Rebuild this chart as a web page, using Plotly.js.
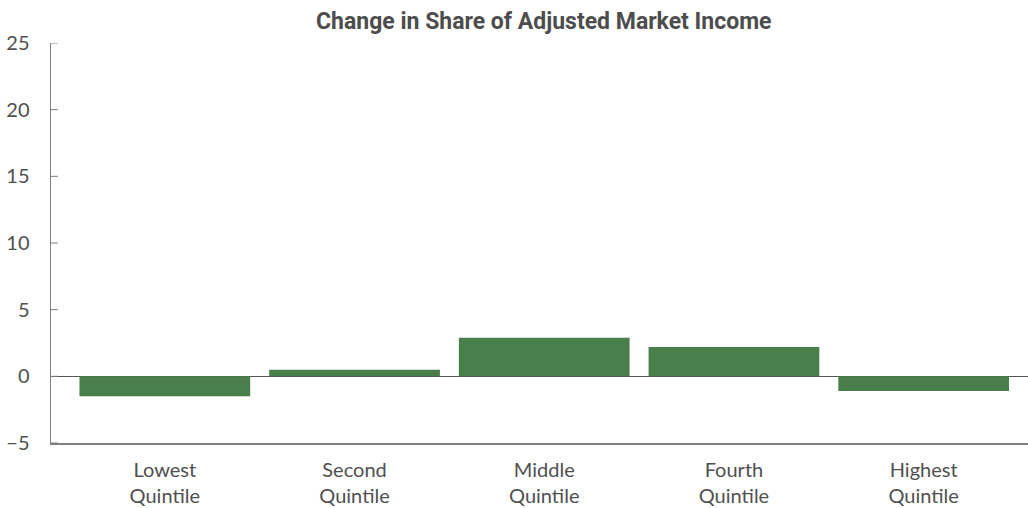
<!DOCTYPE html>
<html>
<head>
<meta charset="utf-8">
<script src="https://cdn.plot.ly/plotly-3.0.1.min.js"></script>
<style>html,body{margin:0;padding:0;background:#fff;}#chart{width:1028px;height:508px;}</style>
</head>
<body>
<div id="chart"></div>
<script>
const categories = ["Lowest<br>Quintile", "Second<br>Quintile", "Middle<br>Quintile", "Fourth<br>Quintile", "Highest<br>Quintile"];
const shareChange = [-1.5, 0.5, 2.9, 2.2, -1.1];
const yTicks = [-5, 0, 5, 10, 15, 20, 25];
const yTickLabels = ["\u22125", "0", "5", "10", "15", "20", "25"];

const trace = {
  type: "bar",
  x: [0, 1, 2, 3, 4],
  y: shareChange,
  width: 0.9,
  marker: {color: "#4a7f4c"},
  hoverinfo: "skip"
};

const layout = {
  width: 1028, height: 508,
  margin: {l: 51, r: 0, t: 43, b: 65},
  paper_bgcolor: "#fff", plot_bgcolor: "#fff",
  font: {family: "Lato, 'Open Sans', sans-serif", size: 20, color: "#505050"},
  title: {
    text: "<b>Change in Share of Adjusted Market Income</b>",
    font: {family: "Roboto, 'Open Sans', sans-serif", size: 23, color: "#4d4d4d"},
    x: 0.529, xanchor: "center", y: 0.975, yanchor: "top"
  },
  xaxis: {
    range: [-0.6, 4.55],
    tickmode: "array", tickvals: [0, 1, 2, 3, 4], ticktext: categories,
    showgrid: false, zeroline: false,
    showline: true, linecolor: "#7f7f7f", linewidth: 1.5,
    ticks: "", ticklen: 0,
    ticklabelstandoff: 8,
    tickfont: {size: 20, color: "#505050"}
  },
  yaxis: {
    range: [-5, 25],
    tickmode: "array", tickvals: yTicks, ticktext: yTickLabels,
    showgrid: false,
    zeroline: true, zerolinecolor: "#555", zerolinewidth: 1.5,
    showline: true, linecolor: "#7f7f7f", linewidth: 1.5,
    ticks: "", ticklen: 0,
    ticklabelstandoff: 16,
    tickfont: {size: 20, color: "#505050"}
  },
  showlegend: false
};

layout.shapes = yTicks.map(v => ({
  type: "line", xref: "paper", yref: "y",
  x0: 0, x1: 0.007, y0: v, y1: v,
  line: {color: "#7f7f7f", width: 1}
}));

Plotly.newPlot("chart", [trace], layout, {displayModeBar: false, staticPlot: true});
</script>
</body>
</html>
